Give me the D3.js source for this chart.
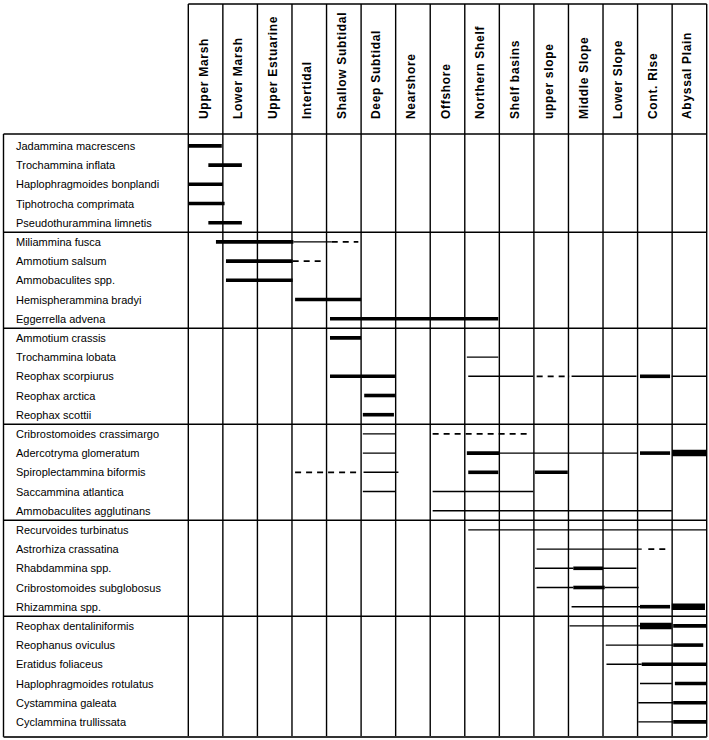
<!DOCTYPE html>
<html>
<head>
    <meta charset="utf-8">
    <script src="https://d3js.org/d3.v7.min.js"></script>
    <style>
        body {
            margin: 0;
            background-color: white;
        }

        text {
            font-family: "Liberation Sans", Arial, sans-serif;
            fill: black;
        }

        text.colLabel {
            font-size: 12px;
            font-weight: bold;
            letter-spacing: 0.7px;
        }

        text.rowLabel {
            font-size: 11px;
        }
    </style>
</head>
<body>
<div id="chart"></div>
<script>
    // environments (columns), shallow to deep
    let columns = ["Upper Marsh", "Lower Marsh", "Upper Estuarine", "Intertidal", "Shallow Subtidal",
        "Deep Subtidal", "Nearshore", "Offshore", "Northern Shelf", "Shelf basins", "upper slope",
        "Middle Slope", "Lower Slope", "Cont. Rise", "Abyssal Plain"];

    // species, in the order of the rows; groups are split by a line
    let groups = [
        ["Jadammina macrescens", "Trochammina inflata", "Haplophragmoides bonplandi", "Tiphotrocha comprimata",
            "Pseudothurammina limnetis"],
        ["Miliammina fusca", "Ammotium salsum", "Ammobaculites spp.", "Hemispherammina bradyi", "Eggerrella advena"],
        ["Ammotium crassis", "Trochammina lobata", "Reophax scorpiurus", "Reophax arctica", "Reophax scottii"],
        ["Cribrostomoides crassimargo", "Adercotryma glomeratum", "Spiroplectammina biformis",
            "Saccammina atlantica", "Ammobaculites agglutinans"],
        ["Recurvoides turbinatus", "Astrorhiza crassatina", "Rhabdammina spp.", "Cribrostomoides subglobosus",
            "Rhizammina spp."],
        ["Reophax dentaliniformis", "Reophanus oviculus", "Eratidus foliaceus", "Haplophragmoides rotulatus",
            "Cystammina galeata", "Cyclammina trullissata"]
    ];

    // ranges: species, from, to (in column units, 0 = left of Upper Marsh), kind
    let ranges = [
        ["Jadammina macrescens", 0, 0.97, "thick"],
        ["Trochammina inflata", 0.58, 1.55, "thick"],
        ["Haplophragmoides bonplandi", 0, 1.0, "thick"],
        ["Tiphotrocha comprimata", 0, 1.05, "thick"],
        ["Pseudothurammina limnetis", 0.58, 1.55, "thick"],

        ["Miliammina fusca", 0.8, 3.04, "thick"],
        ["Miliammina fusca", 3.04, 4.15, "thin"],
        ["Miliammina fusca", 4.15, 4.92, "dash"],
        ["Ammotium salsum", 1.09, 3.02, "thick"],
        ["Ammotium salsum", 3.02, 3.89, "dash"],
        ["Ammobaculites spp.", 1.09, 3.02, "thick"],
        ["Hemispherammina bradyi", 3.09, 5.0, "thick"],
        ["Eggerrella advena", 4.1, 8.97, "thick"],

        ["Ammotium crassis", 4.1, 5.0, "thick"],
        ["Trochammina lobata", 8.06, 8.97, "thin"],
        ["Reophax scorpiurus", 4.1, 5.98, "thick"],
        ["Reophax scorpiurus", 8.1, 9.98, "thin"],
        ["Reophax scorpiurus", 10.08, 11.04, "dash"],
        ["Reophax scorpiurus", 11.09, 12.97, "thin"],
        ["Reophax scorpiurus", 13.07, 13.94, "thick"],
        ["Reophax scorpiurus", 13.99, 15, "thin"],
        ["Reophax arctica", 5.09, 5.98, "thick"],
        ["Reophax scottii", 5.05, 5.95, "thick"],

        ["Cribrostomoides crassimargo", 5.05, 6.01, "thin"],
        ["Cribrostomoides crassimargo", 7.07, 9.89, "dash"],
        ["Adercotryma glomeratum", 5.05, 6.0, "thin"],
        ["Adercotryma glomeratum", 8.06, 9.0, "thick"],
        ["Adercotryma glomeratum", 9.0, 13.0, "thin"],
        ["Adercotryma glomeratum", 13.07, 13.94, "thick"],
        ["Adercotryma glomeratum", 14.0, 15.0, "heavy"],
        ["Spiroplectammina biformis", 3.09, 4.95, "dash"],
        ["Spiroplectammina biformis", 5.07, 6.08, "thin"],
        ["Spiroplectammina biformis", 8.1, 8.97, "thick"],
        ["Spiroplectammina biformis", 10.03, 10.98, "thick"],
        ["Saccammina atlantica", 5.05, 6.0, "thin"],
        ["Saccammina atlantica", 7.07, 9.98, "thin"],
        ["Ammobaculites agglutinans", 7.07, 13.99, "thin"],

        ["Recurvoides turbinatus", 8.1, 15, "thin"],
        ["Astrorhiza crassatina", 10.08, 13.12, "thin"],
        ["Astrorhiza crassatina", 13.31, 13.89, "dash"],
        ["Rhabdammina spp.", 10.03, 11.14, "thin"],
        ["Rhabdammina spp.", 11.14, 12.0, "thick"],
        ["Rhabdammina spp.", 12.0, 12.97, "thin"],
        ["Cribrostomoides subglobosus", 10.08, 11.14, "thin"],
        ["Cribrostomoides subglobosus", 11.14, 12.05, "thick"],
        ["Cribrostomoides subglobosus", 12.05, 13.03, "thin"],
        ["Rhizammina spp.", 11.09, 13.07, "thin"],
        ["Rhizammina spp.", 13.07, 13.94, "thick"],
        ["Rhizammina spp.", 13.99, 14.95, "heavy"],

        ["Reophax dentaliniformis", 11.03, 13.07, "thin"],
        ["Reophax dentaliniformis", 13.07, 13.99, "heavy"],
        ["Reophax dentaliniformis", 14.03, 15, "thick"],
        ["Reophanus oviculus", 12.08, 14.03, "thin"],
        ["Reophanus oviculus", 14.03, 14.9, "thick"],
        ["Eratidus foliaceus", 12.1, 13.12, "thin"],
        ["Eratidus foliaceus", 13.12, 15, "thick"],
        ["Haplophragmoides rotulatus", 13.07, 13.99, "thin"],
        ["Haplophragmoides rotulatus", 14.08, 15, "thick"],
        ["Cystammina galeata", 13.02, 14.03, "thin"],
        ["Cystammina galeata", 14.03, 15, "thick"],
        ["Cyclammina trullissata", 13.02, 14.03, "thin"],
        ["Cyclammina trullissata", 14.03, 15, "thick"]
    ];

    let lineWidths = { thin: 1.4, dash: 1.8, thick: 3.6, heavy: 6.5 };

    let width = 709, height = 740;
    let leftEdge = 3.5, gridLeft = 188.3, rightEdge = 706.7;
    let headTop = 4, tableTop = 134, tableBottom = 737;

    let species = groups.flat();

    let x = d3.scaleLinear().domain([0, columns.length]).range([gridLeft, rightEdge]);
    let col = d3.scaleBand().domain(columns).range([gridLeft, rightEdge]);
    let y = d3.scaleBand().domain(species).range([136.3, 731.5]);

    let svg = d3.select("#chart")
        .append("svg")
        .attr("width", width)
        .attr("height", height);

    // column borders run the whole height
    svg.append("g")
        .selectAll("line")
        .data(d3.range(columns.length + 1))
        .enter()
        .append("line")
        .attr("x1", d => x(d))
        .attr("x2", d => x(d))
        .attr("y1", headTop)
        .attr("y2", tableBottom)
        .attr("stroke", "black")
        .attr("stroke-width", 1.4);

    // header top, table top, left border, bottom
    svg.append("line").attr("x1", gridLeft).attr("x2", rightEdge).attr("y1", headTop).attr("y2", headTop)
        .attr("stroke", "black").attr("stroke-width", 1.4);
    svg.append("line").attr("x1", leftEdge).attr("x2", rightEdge).attr("y1", tableTop).attr("y2", tableTop)
        .attr("stroke", "black").attr("stroke-width", 1.4);
    svg.append("line").attr("x1", leftEdge).attr("x2", leftEdge).attr("y1", tableTop).attr("y2", tableBottom)
        .attr("stroke", "black").attr("stroke-width", 1.4);
    svg.append("line").attr("x1", leftEdge).attr("x2", rightEdge).attr("y1", tableBottom).attr("y2", tableBottom)
        .attr("stroke", "#333").attr("stroke-width", 2);

    // separators between the groups
    let sepRows = [];
    let count = 0;
    for (let i = 0; i < groups.length - 1; i++) {
        count += groups[i].length;
        sepRows.push(species[count]);
    }

    svg.append("g")
        .selectAll("line")
        .data(sepRows)
        .enter()
        .append("line")
        .attr("x1", leftEdge)
        .attr("x2", rightEdge)
        .attr("y1", d => y(d))
        .attr("y2", d => y(d))
        .attr("stroke", "black")
        .attr("stroke-width", 1.4);

    // column labels, rotated
    svg.append("g")
        .selectAll("text")
        .data(columns)
        .enter()
        .append("text")
        .attr("class", "colLabel")
        .attr("transform", d => "translate(" + (col(d) + col.bandwidth() / 2 + 2) + "," + 119 + ") rotate(-90)")
        .text(d => d);

    // species labels
    svg.append("g")
        .selectAll("text")
        .data(species)
        .enter()
        .append("text")
        .attr("class", "rowLabel")
        .attr("x", 16)
        .attr("y", d => y(d) + y.bandwidth() / 2 + 4)
        .text(d => d);

    // ranges
    svg.append("g")
        .selectAll("line")
        .data(ranges)
        .enter()
        .append("line")
        .attr("x1", d => x(d[1]))
        .attr("x2", d => x(d[2]))
        .attr("y1", d => y(d[0]) + y.bandwidth() / 2)
        .attr("y2", d => y(d[0]) + y.bandwidth() / 2)
        .attr("stroke", "black")
        .attr("stroke-width", d => lineWidths[d[3]])
        .attr("stroke-dasharray", d => d[3] == "dash" ? "6,5" : null);
</script>
</body>
</html>
